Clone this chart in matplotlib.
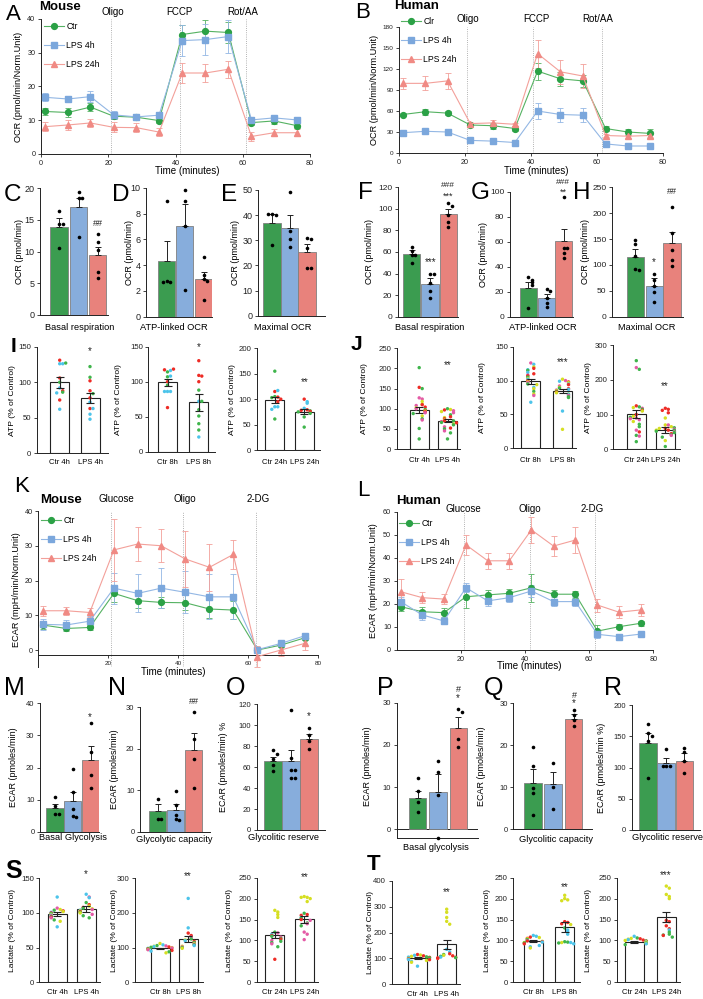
import matplotlib

matplotlib.use("Agg")
import matplotlib.pyplot as plt
import matplotlib.transforms as mtransforms

plt.rcParams["font.family"] = ["Liberation Sans", "DejaVu Sans"]

W, H = 703, 999

# ---------------------------------------------------------------- data
# Seahorse kinetics (12 measurements)
minutes = [1.2, 8.0, 14.7, 21.6, 28.4, 35.1, 42.0, 48.9, 55.7, 62.6, 69.3, 76.1]

ocr_m_ctr = [12.6, 12.3, 13.9, 11.2, 10.9, 9.9, 35.4, 36.4, 36.0, 9.3, 9.8, 8.4]
ocr_m_ctr_err = [0.9, 1.2, 1.2, 0.9, 0.8, 0.8, 2.8, 3.2, 3.0, 0.8, 0.8, 0.8]
ocr_m_4h = [16.8, 16.3, 17.0, 11.6, 11.0, 11.5, 33.6, 33.9, 34.8, 10.1, 10.7, 10.1]
ocr_m_4h_err = [1.2, 1.0, 1.6, 1.2, 0.8, 1.0, 4.5, 4.5, 4.8, 0.8, 0.7, 0.7]
ocr_m_24h = [8.1, 8.6, 9.2, 7.9, 7.8, 6.5, 24.0, 24.0, 25.1, 5.2, 6.3, 6.3]
ocr_m_24h_err = [1.3, 1.5, 1.3, 1.5, 1.3, 1.2, 2.9, 2.7, 2.6, 1.2, 1.0, 1.0]

ocr_h_ctr = [55, 59, 57, 40, 39, 35, 117, 106, 103, 35, 30, 28]
ocr_h_ctr_err = [2, 4, 3, 2, 4, 4, 12, 10, 9, 4, 4, 6]
ocr_h_4h = [29, 31, 30, 18, 17, 15, 60, 55, 54, 13, 10, 10]
ocr_h_4h_err = [3, 3, 4, 2, 2, 2, 11, 10, 10, 2, 2, 1.5]
ocr_h_24h = [99.5, 99.5, 103, 42, 43, 41, 142, 116, 110, 25, 24, 25]
ocr_h_24h_err = [8, 10, 11, 2, 4, 2, 20, 17, 17, 2, 2, 2]

ecar_m_ctr = [7.2, 6.2, 6.5, 16.3, 14.2, 13.7, 13.6, 11.8, 11.5, 0.0, 1.4, 3.5]
ecar_m_ctr_err = [1.2, 0.8, 0.8, 2.5, 2.0, 1.5, 2.2, 2.5, 2.5, 0.5, 0.6, 0.6]
ecar_m_4h = [7.4, 7.2, 8.3, 17.8, 16.3, 17.8, 16.6, 15.3, 15.3, 0.1, 1.9, 4.1]
ecar_m_4h_err = [1.5, 1.5, 1.5, 4.5, 5.5, 5.8, 6.0, 6.5, 6.5, 0.6, 0.6, 0.6]
ecar_m_24h = [11.3, 11.3, 10.8, 28.8, 30.5, 30.0, 26.2, 23.8, 27.5, -1.9, 0.0, 1.9]
ecar_m_24h_err = [1.4, 1.2, 1.4, 9.0, 5.0, 4.8, 8.0, 6.8, 4.2, 3.0, 1.8, 1.8]

ecar_h_ctr = [18.8, 16.6, 16.2, 23.1, 23.9, 24.6, 27.0, 24.2, 24.2, 8.2, 10.1, 11.6]
ecar_h_ctr_err = [2, 2.2, 2, 5, 2.2, 2, 6, 2, 1.5, 2.5, 1, 1]
ecar_h_4h = [21.0, 15.2, 12.6, 27.0, 21.3, 22.7, 25.6, 21.0, 21.0, 6.8, 5.8, 6.9]
ecar_h_4h_err = [2, 2, 1.5, 2, 2, 2, 2.5, 2, 2, 1.5, 1, 1]
ecar_h_24h = [25.3, 22.7, 22.1, 45.6, 38.7, 38.7, 52.1, 45.1, 47.7, 19.5, 16.4, 17.4]
ecar_h_24h_err = [5.5, 2.5, 2.2, 4.5, 3.5, 3.5, 5.5, 4.5, 5.5, 2.8, 2.5, 2.5]

# Bar summaries (Ctr, LPS 4h, LPS 24h)
C_bar = [13.9, 17.0, 9.4]
C_err = [1.3, 1.5, 1.3]
C_dots = [[16.3, 14.3, 14.3, 10.6], [19.3, 18.5, 18.5, 12.3], [12.7, 11.5, 10.2, 6.8, 5.9]]
D_bar = [4.3, 7.0, 2.9]
D_err = [1.6, 1.75, 0.6]
D_dots = [[9.0, 2.8, 2.7, 2.7], [9.8, 9.0, 7.0, 2.1], [4.65, 3.2, 2.9, 2.8, 1.3]]
E_bar = [36.8, 34.8, 25.3]
E_err = [3.6, 5.2, 3.3]
E_dots = [[40.4, 40.0, 40.4, 28.2], [49.4, 33.5, 30.6, 27.5], [31.1, 30.4, 27.0, 19.0, 18.8]]
F_bar = [57.9, 30.3, 95.0]
F_err = [4.0, 5.3, 5.0]
F_dots = [[65, 61, 57, 57, 50], [40, 40, 31, 24, 17], [105, 102.7, 94.3, 88, 83]]
G_bar = [23.2, 14.7, 60.6]
G_err = [4.8, 3.3, 9.4]
G_dots = [[32, 29.4, 28, 25.4, 7.2], [22, 20.6, 14.7, 11, 8], [95.5, 54.7, 54.7, 50.7, 46.7]]
H_bar = [116, 60, 143]
H_err = [14, 14, 21]
H_dots = [[148, 140, 118, 92, 90], [82, 70, 60, 48, 28], [212, 161, 129, 110, 97]]
M_bar = [7.3, 9.6, 22.3]
M_err = [1.4, 2.9, 4.4]
M_dots = [[10.9, 8.1, 5.5, 5.5], [19.5, 12.5, 7.0, 5.0, 4.5], [33.8, 24.9, 17.7, 13.7]]
N_bar = [5.0, 5.2, 19.7]
N_err = [1.6, 1.4, 4.0]
N_dots = [[8.0, 3.1, 3.1], [9.8, 6.5, 4.0, 3.0, 2.8], [28.8, 22.3, 17.5, 10.6]]
O_bar = [66.2, 65.9, 86.6]
O_err = [3.8, 10.5, 4.8]
O_dots = [[76, 73, 68, 62, 56], [114.3, 68.4, 57.3, 57.3, 50, 49.4], [97, 91, 85, 77]]
P_bar = [7.5, 8.8, 24.1]
P_err = [1.6, 4.2, 2.4]
P_dots = [[12.1, 9.1, 6.4, 4.0], [16.2, 13.6, 8.1, -2.1], [28.5, 27.7, 21.4, 19.4]]
Q_bar = [11.1, 10.9, 26.2]
Q_err = [3.2, 2.7, 1.2]
Q_dots = [[19.7, 15.0, 9.8, 8.6, 3.4], [15.7, 10.1, 4.8], [28.3, 27.3, 26.1, 24.7]]
R_bar = [138.7, 107.7, 110.9]
R_err = [17, 8, 11.8]
R_dots = [[169, 155.7, 150, 142.4, 83.7], [129, 103, 103, 103], [131.7, 125, 110.4, 90.7]]

# ATP / lactate (% of control); colour code per replicate experiment
I4_ctr = [131, 126, 126, 127, 106, 100, 92, 88, 86, 85, 75, 62]
I4_ctr_c = "rccgrgcrgcrc"
I4_lps = [122, 107, 102, 88, 84, 78, 72, 63, 63, 55, 48]
I4_lps_c = "ggrrgrcrccc"
I8_ctr = [114, 116, 117, 118, 107, 108, 100, 95, 86, 86, 86, 63]
I8_ctr_c = "gcrrgcrgcccr"
I8_lps = [130, 109, 108, 100, 88, 72, 72, 60, 51, 40, 31, 21]
I8_lps_c = "rrrrgcgggggc"
I24_ctr = [155, 115, 117, 105, 104, 103, 100, 95, 85, 85, 80, 61]
I24_ctr_c = "grcgrgrrcccg"
I24_lps = [100, 95, 92, 82, 79, 78, 77, 76, 75, 72, 65, 45]
I24_lps_c = "rcccrrgrgggg"
I_bar = [100, 78.2, 99.5, 70.7, 98.6, 75.7]
I_err = [8, 7, 5, 12, 6, 4]

J4_ctr = [202, 153, 150, 127, 124, 118, 111, 110, 108, 104, 102, 100, 98, 95, 94, 92, 90, 88,
          82, 75, 72, 51, 25]
J4_ctr_c = "grgppyyrprypgryrpgygpgg"
J4_lps = [100, 98, 97, 95, 93, 90, 85, 80, 78, 75, 72, 70, 70, 68, 66, 65, 62, 60, 55, 52, 50,
          45, 40, 25]
J4_lps_c = "gyrpypgryryrgpgrygprgpgg"
J8_ctr = [126, 124, 120, 118, 116, 115, 112, 110, 108, 107, 105, 103, 102, 100, 98, 97, 95, 94,
          90, 88, 84, 80, 78, 68]
J8_ctr_c = "pcyrcgcrprgycrypgycygypc"
J8_lps = [102, 100, 99, 98, 97, 95, 94, 92, 90, 89, 88, 87, 86, 85, 84, 83, 82, 80, 79, 78, 76,
          75, 55, 28]
J8_lps_c = "ypcrycrpygrcpygrygcpggcy"
J24_ctr = [255, 235, 230, 125, 122, 120, 118, 115, 112, 110, 90, 85, 100, 95, 92, 88, 80, 72,
           65, 55, 50, 40, 38, 22]
J24_ctr_c = "gpgrgypgryppryg" + "pyggprgpg"
J24_lps = [118, 115, 112, 105, 90, 70, 60, 55, 70, 65, 62, 60, 58, 55, 55, 52, 50, 48, 45, 42,
           40, 35, 25, 8]
J24_lps_c = "rrrryyrrpygypgygpgrgpgyg"
J_bar = [97, 70, 99, 84, 101, 55]
J_err = [7, 4, 4, 3, 12, 8]

S4_ctr = [123, 107, 105, 104, 103, 102, 101, 100, 99, 98, 97, 96, 95, 94, 93, 90, 88, 80]
S4_ctr_c = "cpygrycrgycpgrpgyc"
S4_lps = [127, 123, 122, 115, 112, 110, 108, 107, 106, 105, 104, 103, 102, 101, 100, 98, 96, 93]
S4_lps_c = "cpcgryrgypcyrgypgg"
S8_ctr = [112, 108, 106, 105, 104, 103, 102, 101, 100, 99, 98, 97, 96, 95, 94, 92, 90, 88, 85]
S8_ctr_c = "ycgpycrgypcrgyprcgy"
S8_lps = [242, 157, 142, 135, 130, 125, 122, 120, 118, 115, 112, 110, 108, 106, 104, 102, 100,
          98]
S8_lps_c = "ccrrpgycrgypgcypgy"
S24_ctr = [172, 168, 162, 155, 120, 118, 115, 112, 110, 108, 105, 103, 100, 98, 95, 92, 85, 55]
S24_ctr_c = "yyyygpcrgpgrpggpgr"
S24_lps = [205, 203, 203, 200, 193, 165, 162, 160, 155, 153, 150, 148, 142, 140, 135, 120, 115,
           102]
S24_lps_c = "yyyyygrrcgrpgpgppp"
S_bar = [99, 105.8, 98, 124.8, 113, 150.5]
S_err = [3, 4, 2, 9, 8, 9]

T4_ctr = [115, 113, 112, 110, 108, 106, 105, 104, 102, 100, 98, 96, 95, 92, 88, 85, 70]
T4_ctr_c = "rycrygcrgyrcrycyc"
T4_lps = [290, 278, 258, 243, 232, 135, 125, 118, 115, 112, 110, 108, 105, 104, 103, 102, 100]
T4_lps_c = "yyyyyccrgyrgcrgrr"
T8_ctr = [112, 110, 108, 107, 105, 104, 102, 100, 99, 98, 97, 96, 95, 94, 92, 88, 85, 82]
T8_ctr_c = "ccryrygcryrcygrccy"
T8_lps = [208, 200, 197, 195, 145, 143, 140, 138, 130, 125, 120, 115, 97, 96, 95, 95, 94, 92]
T8_lps_c = "yyyyrrrygcccggycgc"
T24_ctr = [110, 106, 105, 104, 103, 102, 101, 100, 99, 98, 97, 96, 95, 94, 93, 92, 90]
T24_ctr_c = "cgyrycrygrycygycg"
T24_lps = [230, 225, 210, 205, 200, 148, 145, 135, 128, 125, 120, 115, 113, 112, 108]
T24_lps_c = "yyyyyrrrrcgggrg"
T_bar = [100, 154.4, 98, 133, 97, 155.5]
T_err = [4, 17, 2, 12, 2, 12]

# ---------------------------------------------------------------- style
LINE_C = {"ctr": ("#55b262", "#2ba146"), "4h": ("#93b7e4", "#7ba7dc"), "24h": ("#f3a09a", "#f08a84")}
BAR_C = ["#3b9c50", "#87addc", "#e8827c"]
DOT = {"r": "#ee2b25", "c": "#4cc4ea", "g": "#3fb54c", "p": "#e45aa6", "y": "#d6df22"}
INK = "#222222"

fig = plt.figure(figsize=(W / 100, H / 100), dpi=100)


def fy(ypx):
    return 1 - ypx / H


def px_ax(x0, y0, x1, y1):
    return fig.add_axes([x0 / W, fy(y1), (x1 - x0) / W, (y1 - y0) / H])


def ftext(x, y, s, **kw):
    kw.setdefault("ha", "center")
    kw.setdefault("va", "center")
    fig.text(x / W, fy(y), s, **kw)


def style_ax(ax, fs):
    for s in ("top", "right"):
        ax.spines[s].set_visible(False)
    for s in ("left", "bottom"):
        ax.spines[s].set_linewidth(0.7)
        ax.spines[s].set_color(INK)
    ax.tick_params(direction="out", length=2.5, width=0.6, labelsize=fs, pad=1.5,
                   color=INK, labelcolor=INK)


def swarm(vals, ppu, step=3.2):
    offs = []
    for i, v in enumerate(vals):
        k = sum(1 for w in vals[:i] if abs(w - v) * ppu < step)
        n = (k + 1) // 2
        offs.append(0.0 if k == 0 else (n if k % 2 else -n) * step)
    return offs


def kinetics(box, ylim, yticks, series, inj_t, inj_lab, inj_lab_t, inj_y, leg, ylabel, ylab_x,
             time_xy, names, bottom_at=None, xticks=(0, 20, 40, 60, 80), xfs=5.2, yfs=5.2):
    x0, y0, x1, y1 = box
    ax = px_ax(x0, y0, x1, y1)
    style_ax(ax, yfs)
    ax.tick_params(axis="x", labelsize=xfs)
    handles = []
    for (y, e, key, marker), name in zip(series, names):
        lc, mc = LINE_C[key]
        ax.errorbar(minutes, y, yerr=e, fmt="none", ecolor=lc, elinewidth=0.6, capsize=2.2,
                    capthick=0.6, zorder=2)
        h, = ax.plot(minutes, y, color=lc, lw=0.8, marker=marker, ms=4.2, mfc=mc, mec=mc,
                     zorder=3, label=name)
        handles.append(h)
    for t in inj_t:
        ax.axvline(t, color="#9a9a9a", lw=0.6, ls=(0, (1, 1.6)), zorder=1)
    trans = mtransforms.blended_transform_factory(ax.transData, fig.transFigure)
    for t, s in zip(inj_lab_t, inj_lab):
        ax.text(t, fy(inj_y), s, transform=trans, ha="center", va="center", fontsize=7)
    ax.set_xlim(0, 80)
    ax.set_xticks(list(xticks))
    ax.set_ylim(*ylim)
    ax.set_yticks(yticks)
    if bottom_at is not None:
        ax.spines["bottom"].set_position(("data", bottom_at))
    ax.legend(handles=handles, loc="upper left", bbox_to_anchor=(leg[0] / W, fy(leg[1])),
              bbox_transform=fig.transFigure, frameon=False, fontsize=6.2, labelspacing=1.15,
              handlelength=2.3, handletextpad=0.3, borderaxespad=0, borderpad=0)
    ftext(time_xy[0], time_xy[1], "Time (minutes)", fontsize=7)
    ftext(ylab_x, (y0 + y1) / 2, ylabel, fontsize=6.6, rotation=90)
    return ax


def bar_panel(x_ax, x_right, zero_px, top_val, top_px, centers, heights, errs, dots, yticks,
              fs, xlabel, xlab_xy, ylabel, ylab_x, lo=0.0, width=17.5, ylab_fs=6.5):
    ppu = (zero_px - top_px) / top_val
    ax = px_ax(x_ax, top_px, x_right, zero_px - lo * ppu)
    style_ax(ax, fs)
    ax.set_xlim(x_ax, x_right)
    ax.set_ylim(lo, top_val)
    ax.bar(centers, heights, width=width, color=BAR_C, edgecolor="#808080", lw=0.6, zorder=2)
    ax.errorbar(centers, heights, yerr=[[0] * 3, errs], fmt="none", ecolor=INK, elinewidth=0.7,
                capsize=2.5, capthick=0.7, zorder=3)
    for c, vals in zip(centers, dots):
        offs = swarm(vals, ppu, 3.6)
        ax.plot([c + o for o in offs], vals, "o", ms=2.6, color="black", mew=0, zorder=4,
                clip_on=False)
    ax.set_xticks([])
    ax.set_yticks(yticks)
    ftext(xlab_xy[0], xlab_xy[1], xlabel, fontsize=6.7)
    ftext(ylab_x, (top_px + zero_px) / 2, ylabel, fontsize=ylab_fs, rotation=90)
    return ax


def dot_panel(x_ax, x_right, zero_px, top_val, top_px, centers, heights, errs, groups, yticks,
              ticklabels, tick_y, ylabel, ylab_x, width=19):
    ppu = (zero_px - top_px) / top_val
    ax = px_ax(x_ax, top_px, x_right, zero_px)
    style_ax(ax, 5.6)
    ax.set_xlim(x_ax, x_right)
    ax.set_ylim(0, top_val)
    ax.bar(centers, heights, width=width, color="white", edgecolor=INK, lw=0.8, zorder=1)
    for c, (vals, cols) in zip(centers, groups):
        offs = swarm(vals, ppu, 3.0)
        ax.scatter([c + o for o in offs], vals, s=6, c=[DOT[k] for k in cols], linewidths=0,
                   zorder=3, clip_on=False)
    ax.errorbar(centers, heights, yerr=errs, fmt="none", ecolor=INK, elinewidth=0.8, capsize=3,
                capthick=0.8, zorder=4)
    ax.set_xticks([])
    ax.set_yticks(yticks)
    for c, s in zip(centers, ticklabels):
        ftext(c, tick_y, s, fontsize=5.5)
    ftext(ylab_x, (top_px + zero_px) / 2, ylabel, fontsize=6.1, rotation=90)
    return ax


def mark(x, y, s, fs=7):
    ftext(x, y, s, fontsize=fs, color=INK)


def letter(x, y, s, fs=16, weight="normal"):
    ftext(x, y, s, fontsize=fs, fontweight=weight)


# ---------------------------------------------------------------- OCR kinetics
mouse_names = ["Ctr", "LPS 4h", "LPS 24h"]
kinetics((41, 19, 310, 154), (0, 40), [0, 10, 20, 30, 40],
         [(ocr_m_ctr, ocr_m_ctr_err, "ctr", "o"), (ocr_m_4h, ocr_m_4h_err, "4h", "s"),
          (ocr_m_24h, ocr_m_24h_err, "24h", "^")],
         [20.8, 41.3, 61.0], ["Oligo", "FCCP", "Rot/AA"], [21.4, 41.3, 60.0], 12,
         (44, 22), "OCR (pmol/min/Norm.Unit)", 19, (187, 171), mouse_names)
kinetics((399, 27, 663, 153), (0, 180), [0, 30, 60, 90, 120, 150, 180],
         [(ocr_h_ctr, ocr_h_ctr_err, "ctr", "o"), (ocr_h_4h, ocr_h_4h_err, "4h", "s"),
          (ocr_h_24h, ocr_h_24h_err, "24h", "^")],
         [20.5, 40.7, 61.6], ["Oligo", "FCCP", "Rot/AA"], [21.0, 41.5, 60.3], 19,
         (401, 17), "OCR (pmol/min/Norm.Unit)", 375, (536, 171), ["Clr", "LPS 4h", "LPS 24h"],
         yfs=4.6)
letter(13, 14, "A", 16)
letter(363, 13, "B", 16)
ftext(60, 7, "Mouse", fontsize=9.5, fontweight="bold")
ftext(417, 6, "Human", fontsize=9.5, fontweight="bold")

# ---------------------------------------------------------------- OCR bars
bar_panel(40, 108, 315, 20, 188, [59, 78.5, 97.5], C_bar, C_err, C_dots, [0, 5, 10, 15, 20], 6.5,
          "Basal respiration", (80, 327), "OCR (pmol/min)", 19)
bar_panel(146, 212, 316.7, 10, 187.7, [166.7, 184.7, 203.5], D_bar, D_err, D_dots,
          [0, 2, 4, 6, 8, 10], 6.5, "ATP-linked OCR", (174, 327), "OCR (pmol/min)", 129)
bar_panel(258, 325, 315.7, 50, 190, [272, 289.7, 307], E_bar, E_err, E_dots,
          [0, 10, 20, 30, 40, 50], 6.5, "Maximal OCR", (283, 327), "OCR (pmol/min)", 236)
bar_panel(398, 458, 316.7, 120, 187.3, [411.7, 430, 448.3], F_bar, F_err, F_dots,
          [0, 20, 40, 60, 80, 100, 120], 6, "Basal respiration", (430, 327),
          "OCR (pmol/min)", 369)
bar_panel(510, 573, 316.7, 100, 191.7, [528.3, 546.5, 563.7], G_bar, G_err, G_dots,
          [0, 20, 40, 60, 80, 100], 6, "ATP-linked OCR", (543, 327), "OCR (pmol/min)", 483)
bar_panel(612, 683, 316.7, 250, 187.3, [635.5, 654.3, 672.2], H_bar, H_err, H_dots,
          [0, 50, 100, 150, 200, 250], 6, "Maximal OCR", (647, 327), "OCR (pmol/min)", 586)
for x, y, s in [(12, 195, "C"), (121, 195, "D"), (229, 195, "E"), (365, 193, "F"),
                (480, 193, "G"), (582, 193, "H")]:
    letter(x, y, s, 17.5)
mark(98, 224, "##", 6.5)
mark(448, 185.5, "###", 6)
mark(448, 196, "***", 6.5)
mark(431, 262, "***")
mark(563, 182.5, "###", 6)
mark(563, 192, "**", 6.5)
mark(672, 192, "##", 6.5)
mark(654, 262, "*")

# ---------------------------------------------------------------- ATP (I, J)
ATP = "ATP (% of Control)"
dot_panel(37, 108, 453.3, 150, 346.7, [59.7, 90], I_bar[0:2], I_err[0:2],
          [(I4_ctr, I4_ctr_c), (I4_lps, I4_lps_c)], [0, 50, 100, 150], ["Ctr 4h", "LPS 4h"],
          463, ATP, 12)
dot_panel(148.3, 215, 451.7, 150, 346.7, [167.5, 198.8], I_bar[2:4], I_err[2:4],
          [(I8_ctr, I8_ctr_c), (I8_lps, I8_lps_c)], [0, 50, 100, 150], ["Ctr 8h", "LPS 8h"],
          463, ATP, 118)
dot_panel(257, 320, 450, 200, 348.3, [274.8, 304.2], I_bar[4:6], I_err[4:6],
          [(I24_ctr, I24_ctr_c), (I24_lps, I24_lps_c)], [0, 50, 100, 150, 200],
          ["Ctr 24h", "LPS 24h"], 463, ATP, 232)
dot_panel(396.7, 460, 449, 250, 348.3, [419.2, 447.5], J_bar[0:2], J_err[0:2],
          [(J4_ctr, J4_ctr_c), (J4_lps, J4_lps_c)], [0, 50, 100, 150, 200, 250],
          ["Ctr 4h", "LPS 4h"], 460, ATP, 364)
dot_panel(513.3, 576, 448.3, 150, 346.7, [530.8, 562.5], J_bar[2:4], J_err[2:4],
          [(J8_ctr, J8_ctr_c), (J8_lps, J8_lps_c)], [0, 50, 100, 150], ["Ctr 8h", "LPS 8h"],
          460, ATP, 482)
dot_panel(613.3, 680, 449.3, 300, 345, [636.3, 665.3], J_bar[4:6], J_err[4:6],
          [(J24_ctr, J24_ctr_c), (J24_lps, J24_lps_c)], [0, 100, 200, 300],
          ["Ctr 24h", "LPS 24h"], 460, ATP, 589)
letter(13, 347, "I", 15, "bold")
letter(356, 345, "J", 15, "bold")
mark(90, 351, "*")
mark(199, 347, "*")
mark(305, 382, "**")
mark(448, 365, "**")
mark(563, 362, "***")
mark(665, 386, "**")

# ---------------------------------------------------------------- ECAR kinetics
kinetics((38.3, 511, 318.3, 667.4), (-5, 40), [0, 10, 20, 30, 40],
         [(ecar_m_ctr, ecar_m_ctr_err, "ctr", "o"), (ecar_m_4h, ecar_m_4h_err, "4h", "s"),
          (ecar_m_24h, ecar_m_24h_err, "24h", "^")],
         [20.8, 41.4, 62.2], ["Glucose", "Oligo", "2-DG"], [22.4, 41.9, 62.9], 499,
         (41, 516), "ECAR (mpH/min/Norm.Unit)", 17, (173, 672), mouse_names, bottom_at=-1.5,
         xticks=(20, 40, 60, 80), xfs=4.6)
kinetics((396.7, 511.7, 653.3, 650), (0, 60), [0, 10, 20, 30, 40, 50, 60],
         [(ecar_h_ctr, ecar_h_ctr_err, "ctr", "o"), (ecar_h_4h, ecar_h_4h_err, "4h", "s"),
          (ecar_h_24h, ecar_h_24h_err, "24h", "^")],
         [21.1, 41.5, 61.9], ["Glucose", "Oligo", "2-DG"], [20.8, 41.5, 60.8], 509,
         (399, 519), "ECAR (mpH/min/Norm.Unit)", 374, (529, 666), mouse_names,
         xticks=(20, 40, 60, 80))
letter(22, 487, "K", 16)
letter(363, 490, "L", 16)
ftext(61, 500, "Mouse", fontsize=9.5, fontweight="bold")
ftext(419, 501, "Human", fontsize=9.5, fontweight="bold")

# ---------------------------------------------------------------- ECAR bars
EC = "ECAR (pmoles/min)"
bar_panel(40, 99, 831.7, 40, 703.3, [55, 72.7, 90.5], M_bar, M_err, M_dots, [0, 10, 20, 30, 40],
          5.5, "Basal Glycolysis", (73, 838), EC, 14)
bar_panel(140, 210, 831.7, 30, 707.3, [157.7, 175.7, 193.7], N_bar, N_err, N_dots,
          [0, 10, 20, 30], 5.5, "Glycolytic capacity", (174, 839), EC, 115)
bar_panel(256.7, 325, 830, 120, 704.3, [273, 291, 309], O_bar, O_err, O_dots,
          [0, 20, 40, 60, 80, 100, 120], 5.5, "Glycolitic reserve", (283, 838),
          "ECAR (pmoles/min) %", 223)
axP = bar_panel(396.7, 478, 829.3, 30, 702.7, [417.5, 437.8, 458.3], P_bar, P_err, P_dots,
                [0, 10, 20, 30], 5.5, "Basal glycolysis", (436, 847), EC, 367, lo=-2.1)
axP.axhline(0, color=INK, lw=0.7, zorder=1)
bar_panel(513.3, 592, 829.3, 30, 703.3, [532.8, 553.2, 573.7], Q_bar, Q_err, Q_dots,
          [0, 10, 20, 30], 5.5, "Glycolitic capacity", (556, 839), EC, 481)
bar_panel(631.7, 700, 830, 200, 705, [648, 666.2, 684.3], R_bar, R_err, R_dots,
          [0, 50, 100, 150, 200], 5.5, "Glycolitic reserve", (667, 838), "ECAR (pmoles/min %)",
          602)
for x, y, s in [(14, 688, "M"), (117, 688, "N"), (236, 688, "O"), (385, 688, "P"),
                (494, 688, "Q"), (613, 688, "R")]:
    letter(x, y, s, 18)
mark(90, 717, "*")
mark(194, 701, "##", 6.5)
mark(309, 716, "*")
mark(458, 690, "#", 6.5)
mark(458, 698, "*")
mark(574, 695, "#", 6.5)
mark(574, 703, "*")

# ---------------------------------------------------------------- lactate (S, T)
LAC = "Lactate (% of Control)"
dot_panel(39.3, 100, 982.3, 150, 878.3, [57.2, 86.2], S_bar[0:2], S_err[0:2],
          [(S4_ctr, S4_ctr_c), (S4_lps, S4_lps_c)], [0, 50, 100, 150], ["Ctr 4h", "LPS 4h"],
          993, LAC, 12)
dot_panel(135, 203, 982.3, 300, 878.3, [160, 188.2], S_bar[2:4], S_err[2:4],
          [(S8_ctr, S8_ctr_c), (S8_lps, S8_lps_c)], [0, 100, 200, 300], ["Ctr 8h", "LPS 8h"],
          993, LAC, 114)
dot_panel(256.7, 318, 982.3, 250, 877.7, [274.8, 304.2], S_bar[4:6], S_err[4:6],
          [(S24_ctr, S24_ctr_c), (S24_lps, S24_lps_c)], [0, 50, 100, 150, 200, 250],
          ["Ctr 24h", "LPS 24h"], 993, LAC, 229)
dot_panel(391.7, 460, 984.3, 400, 880.7, [417.5, 446.7], T_bar[0:2], T_err[0:2],
          [(T4_ctr, T4_ctr_c), (T4_lps, T4_lps_c)], [0, 100, 200, 300, 400],
          ["Ctr 4h", "LPS 4h"], 994, LAC, 371)
dot_panel(513.3, 580, 982.3, 250, 877.7, [533.3, 564.7], T_bar[2:4], T_err[2:4],
          [(T8_ctr, T8_ctr_c), (T8_lps, T8_lps_c)], [0, 50, 100, 150, 200, 250],
          ["Ctr 8h", "LPS 8h"], 993, LAC, 487)
dot_panel(616.7, 680, 982.3, 250, 877.7, [634.2, 666.3], T_bar[4:6], T_err[4:6],
          [(T24_ctr, T24_ctr_c), (T24_lps, T24_lps_c)], [0, 50, 100, 150, 200, 250],
          ["Ctr 24h", "LPS 24h"], 993, LAC, 589)
letter(14, 871, "S", 18, "bold")
letter(374, 865, "T", 16, "bold")
mark(86, 874, "*")
mark(188, 876, "**")
mark(305, 877, "**")
mark(447, 892, "**")
mark(565, 887, "**")
mark(666, 875, "***")

fig.savefig("out.png", dpi=100)
